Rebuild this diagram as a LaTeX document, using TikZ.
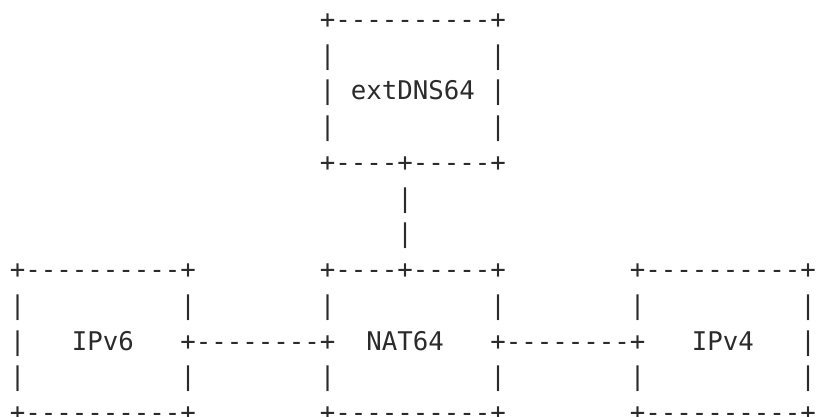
\documentclass[tikz,border=0pt]{standalone}
\usepackage{fontspec}
\setmonofont{DejaVu Sans Mono}
\usepackage{tikz}
\definecolor{ink}{HTML}{2B2B2B}

\begin{document}
\begin{tikzpicture}[x=15.5pt, y=-35.75pt,
  ascii/.style={anchor=base west, inner sep=0, outer sep=0, text=ink,
    font=\ttfamily\fontsize{25.75}{35.75}\selectfont}]
\useasboundingbox (-9.75pt,-388.7pt) rectangle (807.25pt,28.3pt);
% extDNS64
\node[ascii] (dnsA) at (20,0) {+----------+};
\node[ascii] (dnsB) at (20,1) {|~~~~~~~~~~|};
\node[ascii] (dnsC) at (20,2) {|~extDNS64~|};
\node[ascii] (dnsD) at (20,3) {|~~~~~~~~~~|};
\node[ascii] (dnsE) at (20,4) {+----+-----+};
\node[ascii] (upA) at (25,5) {|};
\node[ascii] (upB) at (25,6) {|};
% IPv6
\node[ascii] (sixA) at (0,7) {+----------+};
\node[ascii] (sixB) at (0,8) {|~~~~~~~~~~|};
\node[ascii] (sixC) at (0,9) {|~~~IPv6~~~+};
\node[ascii] (sixD) at (0,10) {|~~~~~~~~~~|};
\node[ascii] (sixE) at (0,11) {+----------+};
% NAT64
\node[ascii] (natA) at (20,7) {+----+-----+};
\node[ascii] (natB) at (20,8) {|~~~~~~~~~~|};
\node[ascii] (natC) at (20,9) {+~~NAT64~~~+};
\node[ascii] (natD) at (20,10) {|~~~~~~~~~~|};
\node[ascii] (natE) at (20,11) {+----------+};
% IPv4
\node[ascii] (fourA) at (40,7) {+----------+};
\node[ascii] (fourB) at (40,8) {|~~~~~~~~~~|};
\node[ascii] (fourC) at (40,9) {+~~~IPv4~~~|};
\node[ascii] (fourD) at (40,10) {|~~~~~~~~~~|};
\node[ascii] (fourE) at (40,11) {+----------+};
% links
\node[ascii] (linkL) at (12,9) {--------};
\node[ascii] (linkR) at (32,9) {--------};
\end{tikzpicture}
\end{document}
